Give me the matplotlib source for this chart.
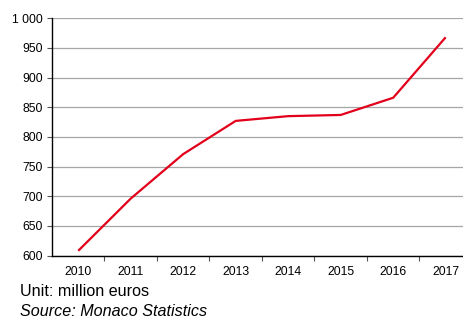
import matplotlib
matplotlib.use("Agg")
import matplotlib.pyplot as plt
from matplotlib.ticker import FuncFormatter
import numpy as np

years = ["2010", "2011", "2012", "2013", "2014", "2015", "2016", "2017"]
values = [608, 696, 771, 827, 835, 837, 866, 968]
y_ticks = [600, 650, 700, 750, 800, 850, 900, 950, 1000]

plt.rcParams["font.family"] = ["Liberation Sans", "DejaVu Sans"]

fig = plt.figure(figsize=(4.63, 3.18), dpi=100)
ax = fig.add_axes([0.1123, 0.1965, 0.907, 0.746])

x = np.arange(len(years))
ax.plot(x, values, color="#e2001a", linewidth=1.6, solid_capstyle="butt")

ax.set_xlim(-0.5, len(years) - 0.5)
ax.set_ylim(600, 1000)
ax.set_yticks(y_ticks)
ax.yaxis.set_major_formatter(FuncFormatter(lambda v, p: f"{int(v):,}".replace(",", " ")))
ax.set_xticks(x)
ax.set_xticklabels(years)
ax.set_xticks(x[:-1] + 0.5, minor=True)

ax.grid(axis="y", color="#a6a6a6", linewidth=0.9)
ax.set_axisbelow(True)

for side in ("top", "right"):
    ax.spines[side].set_visible(False)
ax.spines["left"].set_color("black")
ax.spines["bottom"].set_color("black")
ax.spines["left"].set_linewidth(1.0)
ax.spines["bottom"].set_linewidth(1.0)

ax.tick_params(axis="y", length=3.5, width=0.8, color="#555555", labelsize=8.8, pad=3)
ax.tick_params(axis="x", which="major", length=0, labelsize=8.8, pad=7.5)
ax.tick_params(axis="x", which="minor", length=3.5, width=0.8, color="#555555")

fig.text(0.043, 0.070, "Unit: million euros", fontsize=11.6, va="baseline", ha="left")
fig.text(0.043, 0.006, "Source: Monaco Statistics", fontsize=11.6, style="italic",
         va="baseline", ha="left")

fig.savefig("out.png", dpi=100)
